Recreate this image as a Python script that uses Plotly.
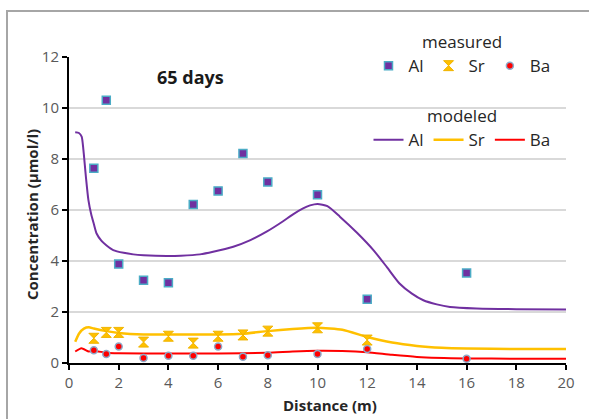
import plotly.graph_objects as go

# measured data
meas_x_al = [1, 1.5, 2, 3, 4, 5, 6, 7, 8, 10, 12, 16]
meas_al = [7.64, 10.3, 3.88, 3.25, 3.15, 6.22, 6.75, 8.22, 7.1, 6.6, 2.5, 3.53]
meas_x_sr = [1, 1.5, 2, 3, 4, 5, 6, 7, 8, 10, 12]
meas_sr = [0.97, 1.2, 1.2, 0.82, 1.05, 0.78, 1.05, 1.1, 1.25, 1.38, 0.9]
meas_x_ba = [1, 1.5, 2, 3, 4, 5, 6, 7, 8, 10, 12, 16]
meas_ba = [0.5, 0.35, 0.65, 0.2, 0.28, 0.28, 0.65, 0.25, 0.3, 0.35, 0.55, 0.17]

# modeled curves
mod_x_al = [0.25, 0.4, 0.51, 0.58, 0.68, 0.78, 0.9, 1.0, 1.11, 1.3, 1.5, 1.78, 2.2, 2.59, 3, 3.93, 4.5, 5.27, 5.8, 6.61, 7.3, 7.95, 8.6, 9.0,
            9.4, 9.7, 10.0, 10.4, 10.9, 11.6, 12.25, 12.8, 13.3, 13.8, 14.26, 14.8, 15.33, 16.4, 18, 20]
mod_al = [9.05, 9.02, 8.88, 8.36, 7.3, 6.4, 5.8, 5.45, 5.08, 4.8, 4.62, 4.43, 4.32, 4.26, 4.23, 4.2, 4.21, 4.26, 4.36, 4.56, 4.82, 5.15, 5.55, 5.82,
          6.05, 6.18, 6.24, 6.15, 5.74, 5.1, 4.43, 3.75, 3.12, 2.72, 2.46, 2.3, 2.2, 2.14, 2.11, 2.1]
mod_x_sr = [0.25, 0.4, 0.6, 0.8, 1.0, 1.5, 2, 3, 4, 5, 6, 7, 8, 9, 10, 11, 12, 13, 14, 15, 16, 18, 20]
mod_sr = [0.83, 1.15, 1.35, 1.4, 1.35, 1.25, 1.18, 1.12, 1.12, 1.12, 1.12, 1.15, 1.25, 1.33, 1.38, 1.3, 1.02, 0.8, 0.67, 0.6, 0.57, 0.55, 0.55]
mod_x_ba = [0.25, 0.5, 0.8, 1.0, 1.5, 2, 4, 6, 8, 9, 10, 11, 12, 13, 14, 16, 18, 20]
mod_ba = [0.45, 0.58, 0.45, 0.48, 0.4, 0.38, 0.37, 0.37, 0.4, 0.45, 0.48, 0.47, 0.42, 0.32, 0.24, 0.18, 0.17, 0.17]

x_ticks = [0, 2, 4, 6, 8, 10, 12, 14, 16, 18, 20]
y_ticks = [0, 2, 4, 6, 8, 10, 12]

PURPLE = "#7030A0"
YELLOW = "#FFC000"
RED = "#FF0000"
FONT = "Open Sans"

fig = go.Figure()

# modeled lines
fig.add_trace(go.Scatter(x=mod_x_al, y=mod_al, mode="lines", name="Al", legend="legend2",
                         line=dict(color=PURPLE, width=2, shape="spline", smoothing=0.6)))
fig.add_trace(go.Scatter(x=mod_x_sr, y=mod_sr, mode="lines", name="Sr", legend="legend2",
                         line=dict(color=YELLOW, width=2.5, shape="spline", smoothing=0.5)))
fig.add_trace(go.Scatter(x=mod_x_ba, y=mod_ba, mode="lines", name="Ba", legend="legend2",
                         line=dict(color=RED, width=2, shape="spline", smoothing=0.5)))

# measured markers
fig.add_trace(go.Scatter(x=meas_x_al, y=meas_al, mode="markers", name="Al", legend="legend",
                         marker=dict(symbol="square", size=8, color=PURPLE,
                                     line=dict(color="#4BACC6", width=1.5))))
fig.add_trace(go.Scatter(x=meas_x_sr, y=meas_sr, mode="markers", name="Sr", legend="legend",
                         marker=dict(symbol="hourglass", size=10, color=YELLOW,
                                     line=dict(color="#F0B400", width=1))))
fig.add_trace(go.Scatter(x=meas_x_ba, y=meas_ba, mode="markers", name="Ba", legend="legend",
                         marker=dict(symbol="circle", size=7, color=RED,
                                     line=dict(color="#8EA9C8", width=1.5))))

W, H = 589, 419
L, R, T, B = 69, 23, 57, 56
pw, ph = W - L - R, H - T - B

def px(xp):
    return (xp - L) / pw

def py(yp):
    return (H - B - yp) / ph

fig.update_layout(
    width=W, height=H,
    margin=dict(l=L, r=R, t=T, b=B, autoexpand=False),
    paper_bgcolor="white", plot_bgcolor="white",
    font=dict(family=FONT, color="#404040"),
    showlegend=True,
    legend=dict(
        title=dict(text="measured", side="top center", font=dict(size=17, color="#262626", family=FONT)),
        orientation="h", x=px(462), xanchor="center", y=py(26), yanchor="top",
        bgcolor="rgba(0,0,0,0)", font=dict(size=17, color="#262626", family=FONT),
        itemwidth=30, tracegroupgap=0,
    ),
    legend2=dict(
        title=dict(text="modeled", side="top center", font=dict(size=17, color="#262626", family=FONT)),
        orientation="h", x=px(462), xanchor="center", y=py(100), yanchor="top",
        bgcolor="rgba(0,0,0,0)", font=dict(size=17, color="#262626", family=FONT),
        itemwidth=30, tracegroupgap=0,
    ),
    xaxis=dict(
        range=[0, 20], tickvals=x_ticks, ticktext=[str(v) for v in x_ticks],
        showgrid=False, zeroline=False,
        showline=True, linecolor="black", linewidth=2,
        ticks="outside", ticklen=5, tickwidth=2, tickcolor="black",
        tickfont=dict(size=15, color="#595959", family=FONT),
    ),
    yaxis=dict(
        range=[0, 12], tickvals=y_ticks, ticktext=[str(v) for v in y_ticks],
        showgrid=True, gridcolor="#D9D9D9", gridwidth=1.5, zeroline=False,
        showline=True, linecolor="black", linewidth=2,
        ticks="outside", ticklen=5, tickwidth=2, tickcolor="black",
        tickfont=dict(size=15, color="#595959", family=FONT),
    ),
    annotations=[
        dict(text="<b>65 days</b>", x=px(190), y=py(77), xref="paper", yref="paper",
             xanchor="center", yanchor="middle",
             showarrow=False, font=dict(size=18, color="#1a1a1a", family=FONT)),
        dict(text="<b>Distance (m)</b>", x=px(330), y=py(405), xref="paper", yref="paper",
             xanchor="center", yanchor="middle",
             showarrow=False, font=dict(size=15, color="#262626", family=FONT)),
        dict(text="<b>Concentration (µmol/l)</b>", x=px(32), y=py(215), xref="paper", yref="paper",
             xanchor="center", yanchor="middle", textangle=-90,
             showarrow=False, font=dict(size=15, color="#262626", family=FONT)),
    ],
    shapes=[
        dict(type="line", xref="paper", yref="paper", x0=px(7), x1=px(7), y0=py(419), y1=py(11),
             line=dict(color="#A6A6A6", width=2)),
        dict(type="line", xref="paper", yref="paper", x0=px(6), x1=px(589), y0=py(11), y1=py(11),
             line=dict(color="#A6A6A6", width=2)),
    ],
)

fig.write_html("out.html")
